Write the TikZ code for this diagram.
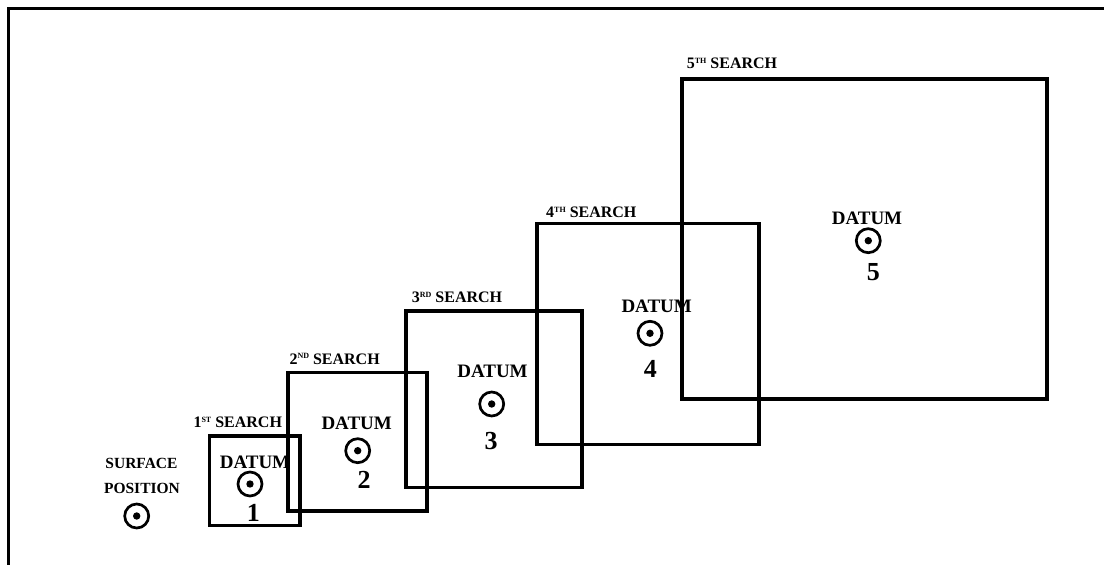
\documentclass[tikz,border=0pt]{standalone}
\usepackage{fontspec}
\setmainfont{Liberation Serif}
\newcommand{\ordsup}[1]{\raisebox{5.3pt}{\fontsize{8}{8}\selectfont #1}}
\begin{document}
\begin{tikzpicture}[x=1pt,y=-1pt,
  frameline/.style={line width=2.6pt, line cap=rect},
  searchbox/.style={draw, rectangle, line width=3.2pt, inner sep=0pt},
  datumsym/.style={circle, draw, line width=2.7pt, minimum size=24pt, inner sep=0pt,
    path picture={\fill (path picture bounding box.center) circle (3.7pt);}},
  searchlbl/.style={anchor=base west, inner sep=0pt, font=\fontsize{16}{16}\selectfont\bfseries},
  datumlbl/.style={anchor=base, inner sep=0pt, font=\fontsize{19}{19}\selectfont\bfseries},
  numlbl/.style={anchor=base, inner sep=0pt, font=\fontsize{26}{26}\selectfont\bfseries},
  surflbl/.style={anchor=base, inner sep=0pt, font=\fontsize{15.5}{15.5}\selectfont\bfseries}]
\useasboundingbox (0,0) rectangle (1104,565);
\fill[white] (0,0) rectangle (1104,565);
% frame
\draw[frameline] (1104,8.3) -- (8.3,8.3) -- (8.3,565);
% search areas
\node[searchbox, minimum width=90.5pt, minimum height=89.5pt] (s1) at (254.75,480.75) {};
\node[searchbox, minimum width=139pt, minimum height=138.5pt] (s2) at (357.5,441.75) {};
\node[searchbox, minimum width=176pt, minimum height=176.5pt] (s3) at (494,399.25) {};
\node[searchbox, minimum width=222pt, minimum height=221pt] (s4) at (648,334) {};
\node[searchbox, minimum width=365pt, minimum height=320pt] (s5) at (864.5,239) {};
% search labels
\node[searchlbl] (l1) at (193.3,427.3) {1\ordsup{ST} SEARCH};
\node[searchlbl] (l2) at (289.3,364) {2\ordsup{ND} SEARCH};
\node[searchlbl] (l3) at (411.7,302.3) {3\ordsup{RD} SEARCH};
\node[searchlbl] (l4) at (546,217.7) {4\ordsup{TH} SEARCH};
\node[searchlbl] (l5) at (686.7,68.3) {5\ordsup{TH} SEARCH};
% surface position
\node[surflbl] (sp1) at (141.5,468.3) {SURFACE};
\node[surflbl] (sp2) at (142,493) {POSITION};
\node[datumsym] (sp) at (136.7,516) {};
% datums
\node[datumlbl] (dl1) at (255,468.3) {DATUM};
\node[datumsym] (d1) at (250,484) {};
\node[numlbl] (n1) at (253.3,521.7) {1};
\node[datumlbl] (dl2) at (356.7,429) {DATUM};
\node[datumsym] (d2) at (357.7,450.7) {};
\node[numlbl] (n2) at (364,488) {2};
\node[datumlbl] (dl3) at (492.5,377) {DATUM};
\node[datumsym] (d3) at (491.7,404) {};
\node[numlbl] (n3) at (491,449.3) {3};
\node[datumlbl] (dl4) at (656.7,312.7) {DATUM};
\node[datumsym] (d4) at (650,333.3) {};
\node[numlbl] (n4) at (650.3,377.3) {4};
\node[datumlbl] (dl5) at (867,224) {DATUM};
\node[datumsym] (d5) at (868.3,240.7) {};
\node[numlbl] (n5) at (873.3,280.7) {5};
\end{tikzpicture}
\end{document}
